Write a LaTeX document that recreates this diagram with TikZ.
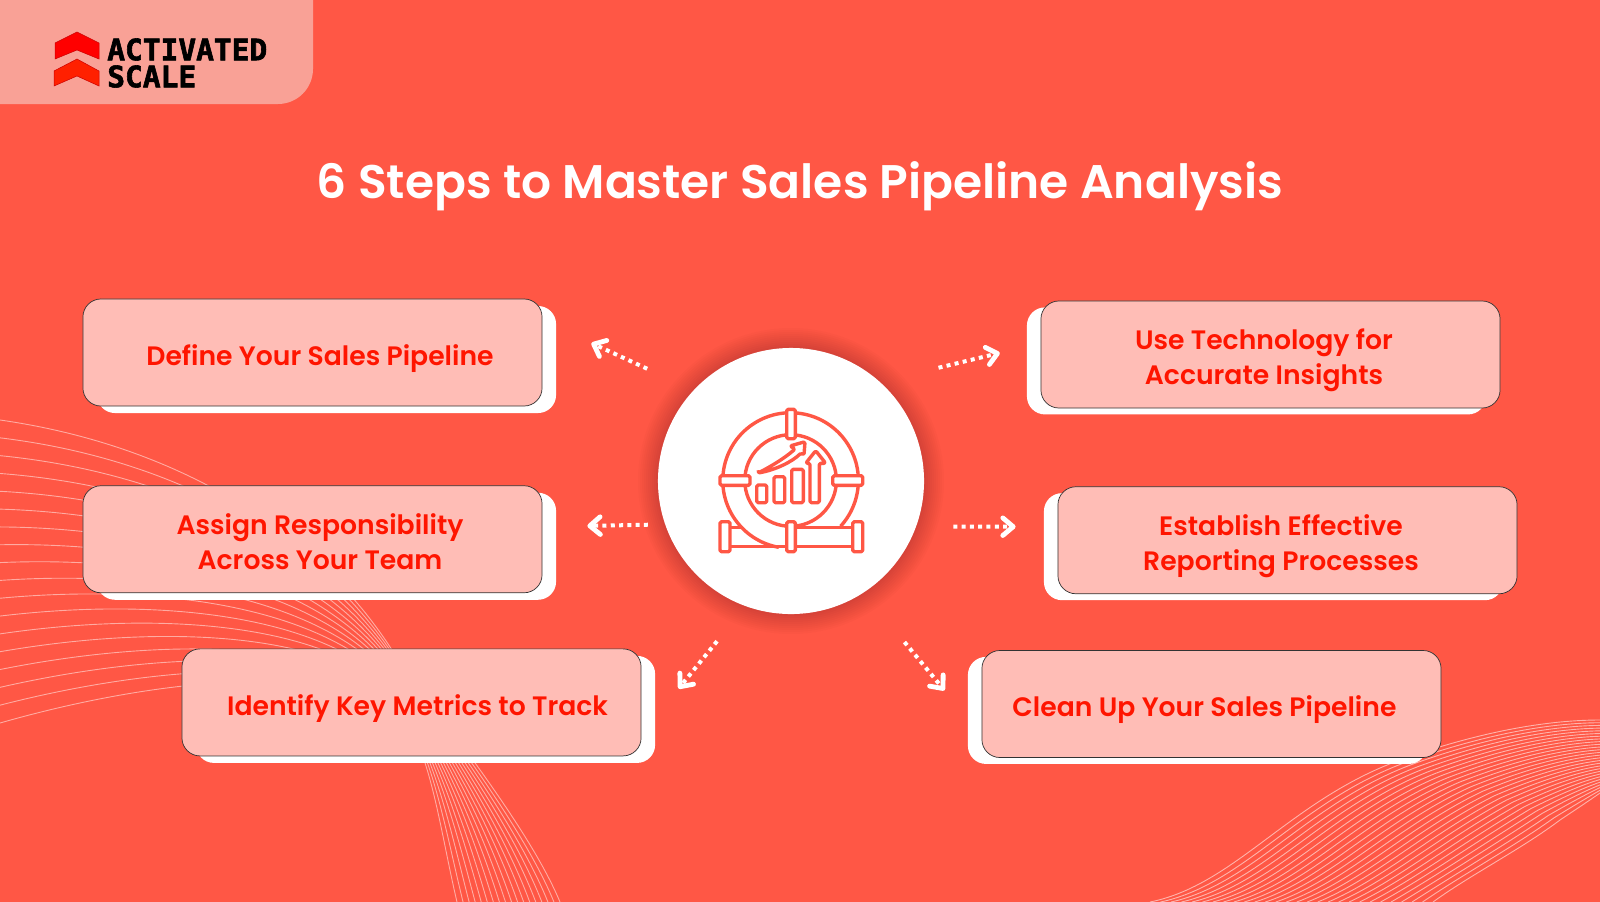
\documentclass[tikz,border=0pt]{standalone}
\usepackage{fontspec}
\setmainfont{Poppins}[UprightFont=* SemiBold]
\newfontfamily\logofont{DejaVu Sans Mono}[BoldFeatures={FakeBold=2}]
\usetikzlibrary{positioning,arrows.meta,shadows}
\definecolor{bgred}{HTML}{FF5745}
\definecolor{panelred}{HTML}{F9A196}
\definecolor{boxpink}{HTML}{FFBDB6}
\definecolor{textred}{HTML}{FF1500}
\def\px{0.025cm}
\newcommand{\boxtext}[2]{\kern#1\raisebox{-0.14cm}[\height][\depth]{\begin{tabular}{@{}c@{}}#2\end{tabular}}}
\tikzset{
  stepbox/.style={draw=black!80,line width=0.5pt,fill=boxpink,rounded corners=0.45cm,
    minimum width=11.475cm,minimum height=2.675cm,inner sep=0pt,text=textred,
    font=\fontsize{18.95pt}{25.1pt}\selectfont},
  shadowleft/.style={stepbox,general shadow={fill=white,draw=none,shadow xshift=-0.35cm,shadow yshift=-0.16cm}},
  shadowright/.style={stepbox,general shadow={fill=white,draw=none,shadow xshift=0.35cm,shadow yshift=-0.175cm}},
  flow/.style={draw=white,line width=4*\px,dash pattern=on 4*\px off 4.3*\px,
    -{Straight Barb[length=0.26cm,width=0.44cm,line width=1.2mm,round]}},
  iconline/.style={draw=bgred,line width=3.4*\px,line join=round,rounded corners=1.5*\px},
  collar/.style={iconline,fill=white}
}

\begin{document}
\begin{tikzpicture}[x=0.025cm,y=-0.025cm]
    \useasboundingbox (0,0) rectangle (1600,902);
    \fill[bgred] (0,0) rectangle (1600,902);
    \fill[panelred] (0,0) -- (313,0) -- (313,69) arc[start angle=0,end angle=-90,radius=35*\px] -- (0,104) -- cycle;

    % background lines
    \foreach \k in {0,...,17} {
      \pgfmathsetmacro\t{\k/17}
      \draw[white,opacity=0.5,line width=0.9*\px]
        (0,{420+303*\t}) .. controls ({175-25*\t},{445+235*\t}) and ({315+15*\t},{530+130*\t})
        .. ({392+8*\t},{650+65*\t}) .. controls ({450-20*\t},{730+15*\t}) and ({530-90*\t},830)
        .. ({560-103*\t},902);
    }
    \foreach \k in {0,...,27} {
      \pgfmathsetmacro\t{\k/27}
      \draw[white,opacity=0.55,line width=0.9*\px]
        ({1150+283*\t},902) .. controls ({1235+235*\t},{885-10*\t}) and ({1290+230*\t},{800+50*\t})
        .. ({1400+160*\t},{760+60*\t}) .. controls ({1470+105*\t},{735+75*\t}) and ({1540+50*\t},{720+80*\t})
        .. (1600,{720+73*\t});
    }

    % logo
    \fill[red,draw=red!80!black,line width=0.5*\px] (55,43) -- (77,32) -- (99,43) -- (99,59) -- (77,50) -- (55,59) -- cycle;
    \fill[textred!90!orange,draw=red!80!black,line width=0.5*\px] (54,71) -- (77,59) -- (99,71) -- (99,86) -- (77,76) -- (54,86) -- cycle;
    \node[anchor=west,inner sep=0pt,font=\logofont\bfseries\fontsize{21pt}{21pt}\selectfont] (logoa) at (107,49.5) {ACTIVATED};
    \node[anchor=west,inner sep=0pt,font=\logofont\bfseries\fontsize{21pt}{21pt}\selectfont] (logob) at (107,76.5) {SCALE};

    \node[text=white,inner sep=0pt,font=\fontsize{33.5pt}{40pt}\selectfont] (title) at (800,186) {6 Steps to Master Sales Pipeline Analysis};

    % hub
    \foreach \r in {1,...,10}
      \fill[black,opacity=0.015] (791,481) circle[radius=(133+2*\r)*\px];
    \node[circle,fill=white,minimum size=6.65cm,inner sep=0pt] (hub) at (791,481) {};

    % boxes
    \node[shadowright] (define) at (312.5,352.5) {\boxtext{0.375cm}{Define Your Sales Pipeline}};
    \node[shadowright] (assign) [below=1.975cm of define] {\boxtext{0.375cm}{Assign Responsibility\\Across Your Team}};
    \node[shadowright] (metrics) [below=1.385cm of assign,xshift=2.475cm] {\boxtext{0.3cm}{Identify Key Metrics to Track}};
    \node[shadowleft] (usetech) at (1270.5,354.5) {\boxtext{-0.325cm}{Use Technology for\\Accurate Insights}};
    \node[shadowleft] (establish) [below=1.95cm of usetech,xshift=0.425cm] {\boxtext{-0.325cm}{Establish Effective\\Reporting Processes}};
    \node[shadowleft] (cleanup) [below=1.4cm of establish,xshift=-1.9cm] {\boxtext{-0.35cm}{Clean Up Your Sales Pipeline}};

    \draw[flow,shorten <=51*\px,shorten >=54*\px] (hub.137) -- ([yshift=32*\px]define.east);
    \draw[flow,shorten <=17*\px,shorten >=45*\px] (hub.199.8) -- ([yshift=12.5*\px]assign.east);
    \draw[flow,shorten <=45*\px,shorten >=59*\px] (hub.250.9) -- ([yshift=-32*\px]metrics.east);
    \draw[flow,shorten <=60*\px,shorten >=42*\px] (hub.48.1) -- ([yshift=11.5*\px]usetech.west);
    \draw[flow,shorten <=37*\px,shorten >=42*\px] (hub.340.2) -- ([yshift=13.5*\px]establish.west);
    \draw[flow,shorten <=64*\px,shorten >=58*\px] (hub.303.7) -- ([yshift=-31*\px]cleanup.west);

    % pipeline icon
    \draw[iconline] (778.8,547.3) arc[start angle=260,end angle=-42.4,radius=67.8*\px];
    \draw[iconline] (790.6,480.5) circle[radius=45.8*\px];
    \draw[iconline] (730,527.3) -- (741.6,527.3) (795,527.3) -- (853,527.3);
    \draw[iconline] (730,546.3) -- (787,546.3) (795,546.3) -- (853,546.3);
    \draw[collar] (786.7,409.3) rectangle (795.3,438.7);
    \draw[collar] (720,475.7) rectangle (750,485.3);
    \draw[collar] (832.7,475.7) rectangle (862.7,485.3);
    \draw[collar] (786.7,521.7) rectangle (795.3,551.7);
    \draw[collar] (720,521.7) rectangle (730,551.7);
    \draw[collar] (852.7,521.7) rectangle (862.7,551.7);
    \draw[iconline] (756.7,485) rectangle (766.7,502.7);
    \draw[iconline] (774,476.7) rectangle (784.7,502.7);
    \draw[iconline] (791.7,469.3) rectangle (803.3,502.7);
    \draw[iconline] (810,502.7) -- (810,463.3) -- (805.7,463.3) -- (815.7,450.7) -- (825.7,463.3) -- (819.3,463.3) -- (819.3,502.7) -- cycle;
    \draw[iconline] (758,473) .. controls (775,470) and (792,462) .. (801,453) -- (804,455) -- (805,441.7) -- (790,446) -- (795,449) .. controls (785,458) and (770,467) .. (758,473) -- cycle;
\end{tikzpicture}
\end{document}
